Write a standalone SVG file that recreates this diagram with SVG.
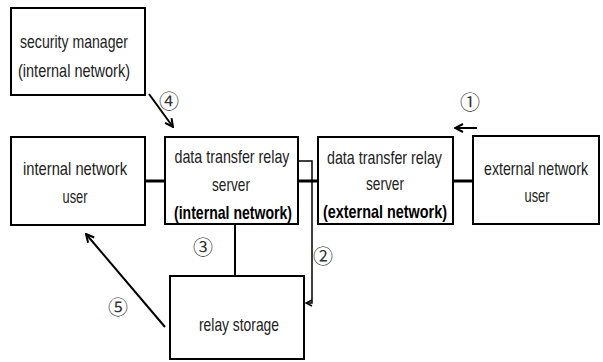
<svg xmlns="http://www.w3.org/2000/svg" width="603" height="362" viewBox="0 0 603 362">
<defs>
<style>
.box{fill:#fff;stroke:#000;stroke-width:2}
text{font-family:"Liberation Sans","Noto Sans",sans-serif;font-size:19px;fill:#222;text-anchor:middle}
.b{font-weight:bold;fill:#000}
.num{font-family:"Noto Sans CJK KR","DejaVu Sans",sans-serif;font-size:20px;fill:#333}
.thick{stroke:#000;stroke-width:3;fill:none}
.thin{stroke:#000;stroke-width:2;fill:none}
.arr{stroke:#000;stroke-width:2;fill:none;marker-end:url(#ah)}
</style>
<marker id="ah" viewBox="0 0 10 10" refX="9" refY="5" markerWidth="5" markerHeight="5" orient="auto" markerUnits="strokeWidth">
<path d="M1,1 L9,5 L1,9" fill="none" stroke="#000" stroke-width="2"/>
</marker>
</defs>
<rect width="603" height="362" fill="#fff"/>
<g id="connectors">
<line class="thick" x1="145" y1="181" x2="165" y2="181"/>
<line class="thick" x1="298" y1="181" x2="318" y2="181"/>
<line class="thick" x1="453" y1="181" x2="473" y2="181"/>
<line class="thin" x1="235" y1="224" x2="235" y2="276"/>
<polyline class="arr" style="stroke-width:1.5" points="298,161 312,161 312,303 306,303"/>
<line class="arr" x1="149" y1="94" x2="173" y2="127"/>
<line class="arr" x1="477" y1="128" x2="455" y2="128"/>
<line class="arr" x1="165" y1="327" x2="86" y2="234"/>
<text class="num" x="470" y="110">①</text>
<text class="num" x="323" y="264">②</text>
<text class="num" x="203" y="255">③</text>
<text class="num" x="169" y="109">④</text>
<text class="num" x="118" y="315">⑤</text>
</g>
<g id="security-manager">
<rect class="box" x="11" y="8" width="134" height="87"/>
<text x="74" y="48" textLength="108" lengthAdjust="spacingAndGlyphs">security manager</text>
<text x="74" y="77" textLength="112" lengthAdjust="spacingAndGlyphs">(internal network)</text>
</g>
<g id="internal-user">
<rect class="box" x="11" y="137" width="134" height="88"/>
<text x="75" y="175" textLength="104" lengthAdjust="spacingAndGlyphs">internal network</text>
<text x="75" y="203" textLength="25" lengthAdjust="spacingAndGlyphs">user</text>
</g>
<g id="internal-relay">
<rect class="box" x="165" y="137" width="133" height="87"/>
<text x="232" y="163" textLength="115" lengthAdjust="spacingAndGlyphs">data transfer relay</text>
<text x="231" y="191" textLength="38" lengthAdjust="spacingAndGlyphs">server</text>
<text class="b" x="233" y="219" textLength="118" lengthAdjust="spacingAndGlyphs">(internal network)</text>
</g>
<g id="external-relay">
<rect class="box" x="318" y="137" width="135" height="87"/>
<text x="384.5" y="164" textLength="115" lengthAdjust="spacingAndGlyphs">data transfer relay</text>
<text x="385" y="190" textLength="38" lengthAdjust="spacingAndGlyphs">server</text>
<text class="b" x="385" y="218" textLength="124" lengthAdjust="spacingAndGlyphs">(external network)</text>
</g>
<g id="external-user">
<rect class="box" x="473" y="136" width="126" height="88"/>
<text x="536" y="175" textLength="104" lengthAdjust="spacingAndGlyphs">external network</text>
<text x="537" y="202" textLength="25" lengthAdjust="spacingAndGlyphs">user</text>
</g>
<g id="relay-storage">
<rect class="box" x="170" y="276" width="134" height="83"/>
<text x="239" y="331" textLength="80" lengthAdjust="spacingAndGlyphs">relay storage</text>
</g>
</svg>
